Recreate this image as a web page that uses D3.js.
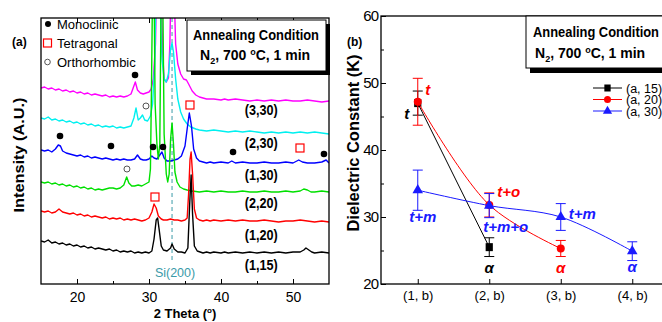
<!DOCTYPE html>
<html>
<head>
<meta charset="utf-8">
<script src="https://cdn.jsdelivr.net/npm/d3@7/dist/d3.min.js"></script>
<style>
  body { margin: 0; background: #fff; }
  svg { display: block; }
  text { font-family: "Liberation Sans", Arial, sans-serif; }
</style>
</head>
<body>
<svg id="chart" width="662" height="322"></svg>
<script>
// ---- panel (a): XRD scans, [2theta, intensity (A.U.)] ----
const scan_3_30 = [[15,196],[15.5,197],[16,195],[16.5,196],[17,194],[17.5,195],[18,193],[18.5,194],[19,192],[19.5,193],[20,191],[20.5,192],[21,190],[21.5,191],[22,189],[22.5,190],[23,189],[23.5,188],[24,189],[24.5,187],[25,188],[25.5,187],[26,188],[26.5,187],[27,188],[27.5,190],[27.8,196],[28.1,202],[28.4,194],[28.8,191],[29.2,190],[29.6,191],[30,192],[30.3,195],[30.6,205],[30.9,240],[31.1,320],[31.4,330],[31.7,300],[31.9,230],[32.1,205],[32.4,202],[32.7,206],[32.9,240],[33.1,320],[33.3,330],[33.5,290],[33.7,240],[34,220],[34.4,210],[34.8,205],[35.2,204],[35.5,200],[36,193],[36.5,189],[37,187],[37.5,186],[38,185],[39,185],[40,184],[40.5,185],[41,184],[42,185],[43,184],[44,183],[45,184],[46,183],[47,184],[48,183],[49,184],[50,183],[51,183],[52,184],[53,183],[54,182],[55,183]];
const scan_2_30 = [[15,166],[15.5,165],[16,167],[16.5,164],[17,165],[17.5,163],[18,164],[18.5,162],[19,163],[19.5,161],[20,162],[20.5,160],[21,161],[21.5,159],[22,160],[22.5,158],[23,159],[23.5,157],[24,158],[24.5,157],[25,158],[25.5,156],[26,157],[26.5,156],[27,157],[27.5,158],[27.9,166],[28.2,176],[28.5,164],[28.8,166],[29.1,169],[29.4,164],[29.8,163],[30.2,168],[30.5,180],[30.8,220],[31,300],[31.2,330],[31.5,290],[31.8,225],[32.1,205],[32.4,202],[32.7,210],[33,235],[33.2,241],[33.4,232],[33.7,205],[34,185],[34.4,172],[34.8,165],[35.3,160],[35.8,157],[36.5,155],[37,154],[38,153],[39,154],[40,153],[41,152],[42,153],[43,152],[44,153],[45,152],[46,151],[47,152],[48,151],[49,152],[50,151],[51,152],[52,151],[53,152],[54,151],[55,150]];
const scan_1_30 = [[15,134],[15.5,133],[16,134],[16.5,132],[17,135],[17.4,139],[17.7,138],[18,133],[18.5,131],[19,130],[19.5,129],[20,128],[20.5,129],[21,127],[21.5,128],[22,126],[22.5,127],[23,126],[23.5,125],[24,126],[24.5,125],[25,124],[25.5,125],[26,124],[26.5,125],[27,124],[27.5,124],[28,125],[28.4,129],[28.8,125],[29.2,124],[29.6,124],[30,125],[30.4,128],[30.7,126],[31.1,125],[31.5,129],[31.8,132],[32.1,126],[32.5,123],[33,123],[33.5,124],[34,125],[34.5,128],[35,138],[35.3,155],[35.6,171],[35.9,158],[36.2,135],[36.6,126],[37,123],[37.5,122],[38,121],[38.5,122],[39,121],[40,122],[41,121],[41.5,123],[42,121],[43,122],[44,121],[45,121],[46,122],[47,121],[48,121],[49,122],[50,121],[50.8,124],[51.3,122],[52,121],[53,121],[54,122],[54.6,124],[55,121]];
const scan_2_20 = [[15,102],[15.5,101],[16,102],[16.5,100],[17,101],[17.5,99],[18,100],[18.5,98],[19,99],[19.5,97],[20,98],[20.5,96],[21,97],[21.5,95],[22,96],[22.5,94],[23,95],[23.5,94],[24,95],[24.5,96],[25,96],[25.5,95],[26,96],[26.5,99],[26.9,107],[27.2,101],[27.6,98],[28,98],[28.5,99],[29,98],[29.5,100],[30,102],[30.2,115],[30.35,200],[30.5,300],[30.7,300],[30.85,180],[31.1,140],[31.3,125],[31.5,140],[31.7,300],[31.9,300],[32.1,150],[32.4,110],[32.6,102],[32.8,110],[33,145],[33.2,161],[33.4,140],[33.6,112],[33.9,102],[34.3,97],[34.8,95],[35.3,94],[36,93],[37,92],[38,93],[39,92],[40,93],[41,92],[42,92],[43,93],[44,92],[45,92],[46,93],[47,92],[48,92],[49,93],[50,92],[51,93],[51.5,95],[52,94],[52.5,92],[53,92],[54,93],[55,92]];
const scan_1_20 = [[15,73],[15.5,72],[16,73],[16.5,71],[17,72],[17.5,75],[18,72],[18.5,71],[19,70],[19.5,71],[20,69],[20.5,70],[21,68],[21.5,69],[22,67],[22.5,68],[23,67],[23.5,66],[24,67],[24.5,65],[25,66],[25.5,65],[26,66],[26.5,64],[27,65],[27.5,64],[28,65],[28.5,64],[29,63],[29.5,64],[30,66],[30.4,72],[30.7,80],[31,76],[31.3,68],[31.7,65],[32,64],[32.5,64],[33,65],[33.5,64],[34,64],[34.5,63],[35,64],[35.3,66],[35.5,90],[35.7,125],[35.85,132],[36.05,110],[36.3,75],[36.6,66],[37,64],[37.5,63],[38,64],[38.5,63],[39,64],[40,63],[41,64],[42,63],[43,64],[44,63],[45,63],[46,64],[47,63],[48,62],[49,63],[50,63],[51,64],[52,63],[53,62],[54,63],[55,62]];
const scan_1_15 = [[15,43],[15.5,42],[16,44],[16.5,41],[17,42],[17.5,40],[18,41],[18.5,39],[19,40],[19.5,38],[20,39],[20.5,37],[21,38],[21.5,36],[22,37],[22.5,35],[23,36],[23.5,35],[24,34],[24.5,35],[25,33],[25.5,34],[26,32],[26.5,33],[27,32],[27.5,33],[28,31],[28.5,32],[29,31],[29.5,32],[30,31],[30.4,33],[30.7,45],[31,64],[31.2,66],[31.4,55],[31.7,38],[32,34],[32.5,33],[33,36],[33.2,40],[33.5,35],[34,32],[34.5,32],[35,31],[35.4,36],[35.65,80],[35.85,109],[36.05,70],[36.3,38],[36.7,33],[37.5,31],[38,32],[38.5,31],[39,32],[40,31],[40.5,32],[41,31],[42,32],[43,31],[44,32],[45,31],[46,32],[47,31],[48,32],[49,31],[50,32],[51,32],[51.5,34],[51.8,36],[52.2,34],[52.6,32],[53,31],[54,32],[55,31]];

const scanNames  = ['(3,30)', '(2,30)', '(1,30)', '(2,20)', '(1,20)', '(1,15)'];
const scanColors = ['#ff00ff', '#00f0f0', '#0000ff', '#00e000', '#ff0000', '#000000'];
const scanLabelI = [174, 141, 109, 81, 49, 19];

// phase markers [2theta, intensity]
const monoclinic   = [[28.06,209],[17.64,148],[24.72,138],[30.56,137],[31.94,137],[41.67,132],[54.3,130]];
const orthorhombic = [[29.58,178],[26.94,115]];
const tetragonal   = [[35.69,179],[50.97,136],[30.83,87]];
const siPeak = 33.2;

// ---- panel (b): dielectric constant ----
const groups = ['(1, b)', '(2, b)', '(3, b)', '(4, b)'];
const k_a15 = [47.0, 25.5];
const e_a15 = [1.8, 1.4];
const k_a20 = [47.2, 31.8, 25.3];
const e_a20 = [3.5, 1.8, 1.2];
const k_a30 = [34.0, 31.7, 30.0, 24.9];
const e_a30 = [3.0, 1.8, 2.0, 1.4];
const phaseLabels = [
  // [group index, value, text, color, dx, dy, anchor]
  [0, 47.0, 't', '#000', -11, 16, 'middle'],
  [0, 47.2, 't', '#ff0000', 10, -7, 'middle'],
  [1, 25.5, 'α', '#000', 0, 26, 'middle'],
  [2, 25.3, 'α', '#ff0000', 0, 25, 'middle'],
  [3, 24.9, 'α', '#1a1aff', 0, 21, 'middle'],
  [0, 34.0, 't+m', '#1a1aff', 5, 32, 'middle'],
  [1, 31.8, 't+o', '#ff0000', 8, -8, 'start'],
  [1, 31.7, 't+m+o', '#1a1aff', -6, 26, 'start'],
  [2, 30.0, 't+m', '#1a1aff', 8, 2, 'start']
];

const svg = d3.select('#chart');

// ===================== panel (a) =====================
const xA = d3.scaleLinear().domain([15, 55]).range([41, 329]);
const yA = d3.scaleLinear().domain([0, 266]).range([284, 18]);

svg.append('clipPath').attr('id', 'clipA')
  .append('rect').attr('x', 41).attr('y', 18).attr('width', 288).attr('height', 266);

const gA = svg.append('g');

// Si(200) reference
gA.append('line')
  .attr('x1', xA(siPeak)).attr('x2', xA(siPeak))
  .attr('y1', 18).attr('y2', 263)
  .attr('stroke', '#3a9aa8').attr('stroke-width', 1)
  .attr('stroke-dasharray', '4,3');
gA.append('text')
  .attr('x', xA(siPeak) + 3).attr('y', 277)
  .attr('text-anchor', 'middle')
  .attr('font-size', 12.5).attr('fill', '#3a9aa8')
  .text('Si(200)');

const lineA = d3.line().x(d => xA(d[0])).y(d => yA(d[1]));
const scans = [scan_3_30, scan_2_30, scan_1_30, scan_2_20, scan_1_20, scan_1_15];

gA.append('g').attr('clip-path', 'url(#clipA)')
  .selectAll('path').data(scans).join('path')
  .attr('d', lineA)
  .attr('fill', 'none')
  .attr('stroke', (d, i) => scanColors[i])
  .attr('stroke-width', 1.4)
  .attr('stroke-linejoin', 'round');

gA.selectAll('.scanlab').data(scanNames).join('text')
  .attr('class', 'scanlab')
  .attr('x', xA(45.6)).attr('y', (d, i) => yA(scanLabelI[i]) + 5)
  .attr('text-anchor', 'middle')
  .attr('font-size', 14).attr('font-weight', 'bold')
  .attr('textLength', 33).attr('lengthAdjust', 'spacingAndGlyphs')
  .text(d => d);

// phase markers
gA.selectAll('.mono').data(monoclinic).join('circle')
  .attr('cx', d => xA(d[0])).attr('cy', d => yA(d[1]))
  .attr('r', 3.3).attr('fill', '#000');
gA.selectAll('.ortho').data(orthorhombic).join('circle')
  .attr('cx', d => xA(d[0])).attr('cy', d => yA(d[1]))
  .attr('r', 3).attr('fill', '#fff').attr('stroke', '#555').attr('stroke-width', 1);
gA.selectAll('.tetra').data(tetragonal).join('rect')
  .attr('x', d => xA(d[0]) - 4).attr('y', d => yA(d[1]) - 4)
  .attr('width', 8).attr('height', 8)
  .attr('fill', '#fff').attr('stroke', '#ff0000').attr('stroke-width', 1.2);

// axes
gA.append('g').attr('transform', 'translate(0,284)')
  .call(d3.axisBottom(xA).tickValues([20, 30, 40, 50]).tickSize(-5).tickPadding(8))
  .call(g => g.select('.domain').remove())
  .call(g => g.selectAll('text').attr('font-size', 14).attr('font-family', '"Liberation Sans", Arial, sans-serif').attr('fill', '#000'));
gA.append('g').attr('transform', 'translate(0,284)')
  .call(d3.axisBottom(xA).tickValues([25, 35, 45]).tickSize(-3).tickFormat(''))
  .call(g => g.select('.domain').remove());
gA.append('g').attr('transform', 'translate(0,18)')
  .call(d3.axisTop(xA).tickValues([20, 30, 40, 50]).tickSize(-5).tickFormat(''))
  .call(g => g.select('.domain').remove());
gA.append('g').attr('transform', 'translate(0,18)')
  .call(d3.axisTop(xA).tickValues([25, 35, 45]).tickSize(-3).tickFormat(''))
  .call(g => g.select('.domain').remove());
gA.append('rect').attr('x', 41).attr('y', 18).attr('width', 288).attr('height', 266)
  .attr('fill', 'none').attr('stroke', '#000').attr('stroke-width', 1.3);

// legend (a)
const legA = gA.append('g');
legA.append('circle').attr('cx', 48).attr('cy', 24).attr('r', 3).attr('fill', '#000');
legA.append('rect').attr('x', 43.5).attr('y', 39).attr('width', 8).attr('height', 8)
  .attr('fill', '#fff').attr('stroke', '#ff0000').attr('stroke-width', 1.2);
legA.append('circle').attr('cx', 47.5).attr('cy', 62).attr('r', 2.8)
  .attr('fill', '#fff').attr('stroke', '#555');
[['Monoclinic', 29], ['Tetragonal', 48], ['Orthorhombic', 67]].forEach(([t, y]) => {
  legA.append('text').attr('x', 57).attr('y', y).attr('font-size', 13).text(t);
});

// annealing box (a)
gA.append('rect').attr('x', 191).attr('y', 24).attr('width', 139).attr('height', 51).attr('fill', '#000');
gA.append('rect').attr('x', 187).attr('y', 20).attr('width', 139).attr('height', 51)
  .attr('fill', '#fff').attr('stroke', '#000').attr('stroke-width', 1);
gA.append('text').attr('x', 193).attr('y', 40).attr('font-size', 14).attr('font-weight', 'bold')
  .attr('textLength', 126).attr('lengthAdjust', 'spacingAndGlyphs').text('Annealing Condition');
const nA = gA.append('text').attr('x', 200).attr('y', 60).attr('font-size', 14).attr('font-weight', 'bold');
nA.append('tspan').text('N');
nA.append('tspan').attr('font-size', 9).attr('dy', 4).text('2');
nA.append('tspan').attr('dy', -4).text(', 700 ');
nA.append('tspan').attr('font-size', 9).attr('dy', -5).text('o');
nA.append('tspan').attr('dy', 5).text('C, 1 min');

// labels (a)
svg.append('text').attr('x', 12).attr('y', 46)
  .attr('font-family', '"Liberation Serif", "Times New Roman", serif')
  .attr('font-size', 12).attr('font-weight', 'bold').text('(a)');
svg.append('text').attr('transform', 'translate(24,155) rotate(-90)')
  .attr('text-anchor', 'middle').attr('font-size', 15).attr('font-weight', 'bold')
  .attr('textLength', 115).attr('lengthAdjust', 'spacingAndGlyphs')
  .text('Intensity (A.U.)');
const xlabA = svg.append('text').attr('x', 185).attr('y', 318)
  .attr('text-anchor', 'middle').attr('font-size', 13).attr('font-weight', 'bold');
xlabA.append('tspan').text('2 Theta (');
xlabA.append('tspan').attr('font-size', 8).attr('dy', -5).text('o');
xlabA.append('tspan').attr('dy', 5).text(')');

// ===================== panel (b) =====================
const xB = d3.scalePoint().domain(groups).range([382, 668]).padding(0.5);
const yB = d3.scaleLinear().domain([20, 60]).range([284, 16]);
const gB = svg.append('g');

gB.append('g').attr('transform', 'translate(381,0)')
  .call(d3.axisLeft(yB).tickValues([20, 30, 40, 50, 60]).tickSize(-5).tickPadding(3))
  .call(g => g.select('.domain').remove())
  .call(g => g.selectAll('text').attr('font-size', 15).attr('font-family', '"Liberation Sans", Arial, sans-serif')
    .attr('letter-spacing', -1).attr('fill', '#000'));
gB.append('g').attr('transform', 'translate(381,0)')
  .call(d3.axisLeft(yB).tickValues([25, 35, 45, 55]).tickSize(-3).tickFormat(''))
  .call(g => g.select('.domain').remove());
gB.append('g').attr('transform', 'translate(0,284)')
  .call(d3.axisBottom(xB).tickSize(-5).tickPadding(7))
  .call(g => g.select('.domain').remove())
  .call(g => g.selectAll('text').attr('font-size', 13).attr('font-family', '"Liberation Sans", Arial, sans-serif').attr('fill', '#000'));
gB.append('rect').attr('x', 381).attr('y', 16).attr('width', 300).attr('height', 268)
  .attr('fill', 'none').attr('stroke', '#000').attr('stroke-width', 1.3);

const seriesB = [
  { vals: k_a15, errs: e_a15, color: '#000000', curve: d3.curveLinear, shape: 'square', name: '(a, 15)' },
  { vals: k_a20, errs: e_a20, color: '#ff0000', curve: d3.curveCatmullRom.alpha(0.5), shape: 'circle', name: '(a, 20)' },
  { vals: k_a30, errs: e_a30, color: '#1a1aff', curve: d3.curveCatmullRom.alpha(0.5), shape: 'triangle', name: '(a, 30)' }
];

function marker(sel, shape, color, size) {
  if (shape === 'square') sel.append('rect').attr('x', -size * 0.45).attr('y', -size * 0.5)
    .attr('width', size * 0.9).attr('height', size).attr('fill', color);
  else if (shape === 'circle') sel.append('circle').attr('r', size * 0.5).attr('fill', color);
  else sel.append('path').attr('d', d3.symbol(d3.symbolTriangle, size * size * 0.75)).attr('fill', color);
}

seriesB.forEach(s => {
  const pts = s.vals.map((v, i) => [xB(groups[i]), yB(v)]);
  gB.append('path')
    .attr('d', d3.line().curve(s.curve)(pts))
    .attr('fill', 'none').attr('stroke', s.color).attr('stroke-width', 1);
  pts.forEach((p, i) => {
    const v = s.vals[i], e = s.errs[i];
    const eb = gB.append('g').attr('stroke', s.color).attr('stroke-width', 1);
    eb.append('line').attr('x1', p[0]).attr('x2', p[0]).attr('y1', yB(v + e)).attr('y2', yB(v - e));
    eb.append('line').attr('x1', p[0] - 5).attr('x2', p[0] + 5).attr('y1', yB(v + e)).attr('y2', yB(v + e));
    eb.append('line').attr('x1', p[0] - 5).attr('x2', p[0] + 5).attr('y1', yB(v - e)).attr('y2', yB(v - e));
    marker(gB.append('g').attr('transform', `translate(${p[0]},${p[1]})`), s.shape, s.color, 8);
  });
});

// phase annotations
phaseLabels.forEach(([gi, v, t, c, dx, dy, anchor]) => {
  gB.append('text')
    .attr('x', xB(groups[gi]) + dx).attr('y', yB(v) + dy)
    .attr('text-anchor', anchor)
    .attr('font-family', '"Liberation Serif", "Times New Roman", serif')
    .attr('font-size', 15).attr('font-weight', 'bold').attr('font-style', 'italic')
    .attr('fill', c).text(t);
});

// legend (b)
seriesB.forEach((s, i) => {
  const y = 88 + i * 11.5;
  const lg = gB.append('g');
  lg.append('line').attr('x1', 593).attr('x2', 622).attr('y1', y).attr('y2', y)
    .attr('stroke', s.color).attr('stroke-width', 1);
  marker(lg.append('g').attr('transform', `translate(607.5,${y})`), s.shape, s.color, 7);
  lg.append('text').attr('x', 626).attr('y', y + 4.5).attr('font-size', 12.5).text(s.name);
});

// annealing box (b)
gB.append('rect').attr('x', 530).attr('y', 20).attr('width', 150).attr('height', 53).attr('fill', '#000');
gB.append('rect').attr('x', 526).attr('y', 16).attr('width', 150).attr('height', 52)
  .attr('fill', '#fff').attr('stroke', '#000').attr('stroke-width', 1);
gB.append('text').attr('x', 533).attr('y', 37).attr('font-size', 14).attr('font-weight', 'bold')
  .attr('textLength', 126).attr('lengthAdjust', 'spacingAndGlyphs').text('Annealing Condition');
const nB = gB.append('text').attr('x', 535).attr('y', 58).attr('font-size', 14).attr('font-weight', 'bold');
nB.append('tspan').text('N');
nB.append('tspan').attr('font-size', 9).attr('dy', 4).text('2');
nB.append('tspan').attr('dy', -4).text(', 700 ');
nB.append('tspan').attr('font-size', 9).attr('dy', -5).text('o');
nB.append('tspan').attr('dy', 5).text('C, 1 min');

// labels (b)
svg.append('text').attr('x', 347).attr('y', 46)
  .attr('font-family', '"Liberation Serif", "Times New Roman", serif')
  .attr('font-size', 12).attr('font-weight', 'bold').text('(b)');
svg.append('text').attr('transform', 'translate(359,143) rotate(-90)')
  .attr('text-anchor', 'middle').attr('font-size', 16).attr('font-weight', 'bold')
  .attr('textLength', 177).attr('lengthAdjust', 'spacingAndGlyphs')
  .text('Dielectric Constant (K)');
</script>
</body>
</html>
